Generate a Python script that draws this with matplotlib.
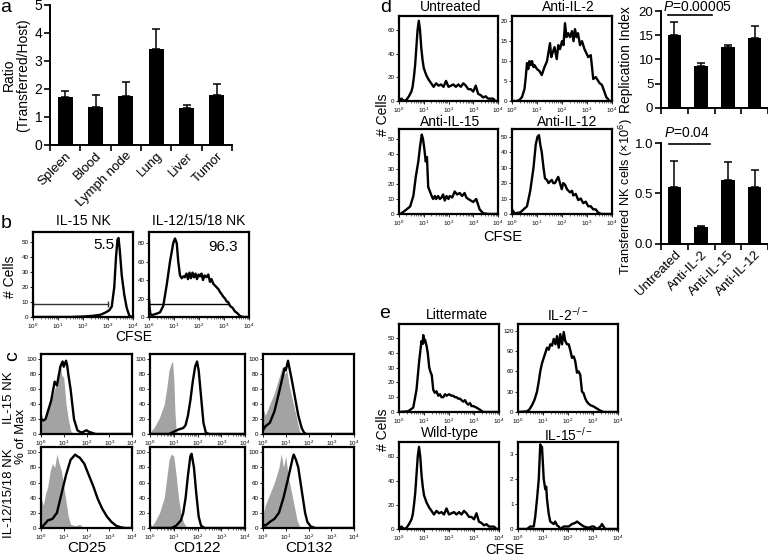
import numpy as np
import matplotlib
matplotlib.use('Agg')
import matplotlib.pyplot as plt

plt.rcParams['font.family'] = ['Liberation Sans', 'DejaVu Sans']
plt.rcParams['mathtext.fontset'] = 'custom'
plt.rcParams['mathtext.rm'] = 'Liberation Sans'
plt.rcParams['mathtext.it'] = 'Liberation Sans:italic'
plt.rcParams['mathtext.bf'] = 'Liberation Sans:bold'

# ---------------- data ----------------
a_categories = ['Spleen', 'Blood', 'Lymph node', 'Lung', 'Liver', 'Tumor']
a_ratio = [1.70, 1.37, 1.76, 3.43, 1.31, 1.78]
a_err = [0.24, 0.41, 0.50, 0.72, 0.11, 0.39]

b_il15_x = [0, 0.5, 1, 1.5, 2, 2.4, 2.7, 2.9, 3.05, 3.15, 3.25, 3.32, 3.38, 3.42, 3.47, 3.55, 3.65, 3.75, 3.85, 3.95, 4]
b_il15_y = [0, 0, 0, 0, 0.3, 0.8, 1.5, 3, 4.5, 7, 20, 40, 52, 53, 45, 28, 15, 6, 1, 0, 0]
b_il1215_x = [0, 0.02, 0.05, 0.1, 0.24, 0.44, 0.57, 0.71, 0.84, 0.97, 1.04, 1.11, 1.17, 1.24, 1.31, 1.37,
              1.43, 1.5, 1.56, 1.62, 1.68, 1.74, 1.8, 1.86, 1.92, 1.98, 2.04, 2.1, 2.16, 2.22, 2.3, 2.37,
              2.44, 2.5, 2.57, 2.64, 2.71, 2.78, 2.84, 2.9, 2.97, 3.04, 3.1, 3.17, 3.24, 3.34, 3.44, 3.54, 3.64, 3.77, 4]
b_il1215_y = [20, 12, 4, 2, 3, 5, 12, 35, 60, 80, 85, 80, 60, 45, 42, 44, 43, 47, 41, 48, 42, 48, 43, 47,
              41, 46, 44, 47, 40, 45, 43, 46, 38, 41, 36, 34, 32, 30, 27, 25, 22, 20, 17, 16, 12, 10, 6, 4, 1, 0, 0]
b_gate_il15 = [0, 3.0, 9]
b_gate_il1215 = [0, 3.2, 14]

# panel c: (x in decades, iso-control gray, stained black)
c_iso_x = {
    ('CD25', 0): [0, 0.1, 0.2, 0.3, 0.4, 0.5, 0.6, 0.7, 0.8, 0.85, 0.9, 1.0, 1.1, 1.2, 1.3, 1.4, 1.6, 4],
    ('CD25', 1): [0, 0.1, 0.2, 0.3, 0.4, 0.5, 0.6, 0.7, 0.8, 0.9, 1.0, 1.1, 1.2, 1.3, 1.5, 1.7, 1.8, 2.0, 4],
    ('CD122', 0): [0, 0.2, 0.4, 0.6, 0.7, 0.8, 0.9, 0.95, 1.0, 1.05, 1.1, 1.2, 4],
    ('CD122', 1): [0, 0.1, 0.2, 0.4, 0.6, 0.7, 0.8, 0.9, 1.0, 1.1, 1.2, 1.3, 1.4, 1.5, 1.6, 4],
    ('CD132', 0): [0, 0.1, 0.3, 0.5, 0.7, 0.85, 0.95, 1.05, 1.15, 1.3, 1.45, 1.6, 1.7, 4],
    ('CD132', 1): [0, 0.03, 0.1, 0.3, 0.5, 0.7, 0.8, 0.9, 1.0, 1.1, 1.2, 1.3, 1.4, 1.5, 1.6, 1.7, 4],
}
c_iso_y = {
    ('CD25', 0): [30, 18, 25, 35, 40, 50, 60, 70, 80, 97, 80, 75, 40, 20, 5, 1, 0, 0],
    ('CD25', 1): [40, 30, 45, 55, 75, 85, 80, 98, 85, 75, 55, 35, 15, 5, 3, 5, 2, 0, 0],
    ('CD122', 0): [2, 10, 22, 40, 60, 85, 95, 97, 75, 30, 5, 0, 0],
    ('CD122', 1): [5, 3, 8, 20, 40, 65, 90, 98, 95, 70, 40, 20, 8, 3, 0, 0],
    ('CD132', 0): [35, 25, 40, 55, 75, 90, 80, 85, 65, 45, 25, 5, 0, 0],
    ('CD132', 1): [90, 20, 30, 45, 60, 80, 98, 80, 95, 70, 55, 40, 25, 10, 3, 0, 0],
}
c_stain_x = {
    ('CD25', 0): [0, 0.1, 0.2, 0.3, 0.45, 0.6, 0.7, 0.85, 0.95, 1.0, 1.1, 1.15, 1.2, 1.3, 1.45, 1.6, 1.7, 1.8, 2.0, 2.1, 2.2, 2.4, 4],
    ('CD25', 1): [0, 0.1, 0.3, 0.5, 0.7, 0.9, 1.1, 1.3, 1.5, 1.58, 1.7, 1.9, 2.1, 2.3, 2.5, 2.7, 2.9, 3.1, 3.3, 3.5, 3.7, 4],
    ('CD122', 0): [0, 0.8, 1.0, 1.2, 1.4, 1.5, 1.6, 1.7, 1.8, 1.9, 1.98, 2.05, 2.15, 2.25, 2.35, 2.5, 4],
    ('CD122', 1): [0, 0.9, 1.1, 1.3, 1.4, 1.5, 1.6, 1.7, 1.75, 1.85, 1.95, 2.05, 2.15, 2.3, 4],
    ('CD132', 0): [0, 0.1, 0.3, 0.5, 0.7, 0.85, 0.95, 1.0, 1.1, 1.15, 1.25, 1.4, 1.55, 1.7, 1.8, 1.9, 4],
    ('CD132', 1): [0, 0.1, 0.3, 0.5, 0.7, 0.9, 1.1, 1.25, 1.3, 1.35, 1.45, 1.55, 1.7, 1.85, 1.95, 2.1, 2.3, 4],
}
c_stain_y = {
    ('CD25', 0): [20, 18, 20, 30, 45, 70, 65, 90, 97, 90, 98, 92, 80, 60, 20, 5, 3, 2, 5, 3, 2, 0, 0],
    ('CD25', 1): [0, 3, 10, 12, 20, 45, 70, 90, 97, 95, 93, 85, 70, 55, 38, 25, 15, 8, 3, 1, 0, 0],
    ('CD122', 0): [0, 0, 3, 6, 8, 12, 25, 45, 70, 90, 97, 85, 50, 15, 2, 0, 0],
    ('CD122', 1): [0, 0, 3, 10, 20, 40, 70, 95, 98, 80, 45, 15, 3, 0, 0],
    ('CD132', 0): [5, 10, 15, 30, 55, 75, 88, 85, 98, 90, 75, 50, 25, 8, 2, 0, 0],
    ('CD132', 1): [5, 3, 8, 12, 20, 40, 65, 85, 92, 97, 90, 80, 50, 20, 8, 2, 0, 0],
}
c_markers = ['CD25', 'CD122', 'CD132']
c_rows = ['IL-15 NK', 'IL-12/15/18 NK']

d_untreated_x = [0, 0.1, 0.2, 0.3, 0.4, 0.5, 0.55, 0.6, 0.65, 0.7, 0.75, 0.8, 0.85, 0.9, 0.95, 1.0, 1.05, 1.1, 1.2,
                 1.3, 1.4, 1.5, 1.6, 1.7, 1.8, 1.9, 2.0, 2.1, 2.2, 2.3, 2.4, 2.5, 2.6, 2.7, 2.8, 2.9, 3.0, 3.1,
                 3.2, 3.3, 3.4, 3.5, 3.6, 3.7, 3.8, 3.9, 4.0]
d_untreated_y = [1, 2, 0, 1, 4, 8, 12, 20, 30, 45, 60, 68, 60, 45, 35, 28, 25, 22, 18, 15, 12, 15, 13, 14, 12,
                 17, 12, 13, 14, 12, 14, 12, 15, 13, 10, 10, 8, 13, 6, 5, 3, 4, 2, 2, 2, 0, 0]
d_antiil2_x = [0, 0.2, 0.3, 0.4, 0.5, 0.55, 0.6, 0.65, 0.7, 0.75, 0.8, 0.86, 0.9, 1.0, 1.1, 1.19, 1.3, 1.4, 1.52,
               1.57, 1.62, 1.7, 1.79, 1.85, 1.92, 2.0, 2.06, 2.12, 2.18, 2.25, 2.32, 2.4, 2.46, 2.52, 2.58,
               2.64, 2.72, 2.8, 2.9, 3.05, 3.15, 3.25, 3.35, 3.5, 3.6, 3.77, 3.9, 4.0]
d_antiil2_y = [0, 0, 0.3, 1, 3, 6, 9.5, 8, 10, 9, 10, 8.5, 9, 8, 7.5, 6.5, 8.5, 10, 14.5, 11, 12, 13.5, 10.5,
               14, 13, 15, 14, 19.5, 16, 17, 16, 17.5, 15, 18, 16, 17, 14, 15, 13, 11, 11.5, 5.5, 6, 4.5, 4,
               1, 0, 0]
d_antiil15_x = [0, 0.1, 0.3, 0.45, 0.58, 0.68, 0.78, 0.85, 0.92, 0.97, 1.02, 1.08, 1.13, 1.18, 1.25, 1.32, 1.38,
                1.45, 1.5, 1.58, 1.65, 1.72, 1.78, 1.85, 1.92, 2.0, 2.05, 2.15, 2.25, 2.35, 2.45, 2.55, 2.65,
                2.72, 2.8, 2.9, 3.0, 3.12, 3.2, 3.26, 3.4, 3.6, 4]
d_antiil15_y = [0, 0.5, 3, 5, 12, 25, 35, 45, 53, 50, 44, 35, 38, 18, 15, 12, 10, 12, 10, 12, 10, 11, 13, 9,
                12, 10, 12, 11, 15, 13, 14, 12, 14, 11, 10, 9, 8, 10, 6, 3, 0.5, 0, 0]
d_antiil12_x = [0, 0.1, 0.33, 0.6, 0.73, 0.86, 0.95, 1.02, 1.08, 1.13, 1.19, 1.26, 1.32, 1.4, 1.46, 1.52, 1.59,
                1.65, 1.72, 1.78, 1.85, 1.92, 1.99, 2.05, 2.12, 2.2, 2.32, 2.4, 2.45, 2.55, 2.65, 2.75, 2.85,
                2.95, 3.05, 3.15, 3.25, 3.35, 3.44, 3.58, 4]
d_antiil12_y = [3, 0.5, 1, 5, 15, 30, 45, 50, 51, 45, 40, 30, 23, 22, 20, 21, 22, 20, 20, 22, 24, 20, 16, 20,
                19, 16, 14, 15, 12, 13, 9, 10, 7, 8, 5, 5, 3, 3, 1, 0, 0]

d_groups = ['Untreated', 'Anti-IL-2', 'Anti-IL-15', 'Anti-IL-12']
d_replication = [15.0, 8.6, 12.5, 14.5]
d_replication_err = [2.8, 0.7, 0.5, 2.4]
d_transferred = [0.56, 0.165, 0.63, 0.56]
d_transferred_err = [0.26, 0.015, 0.18, 0.17]

e_litter_x = [0, 0.37, 0.57, 0.7, 0.81, 0.9, 0.95, 0.97, 1.0, 1.04, 1.1, 1.15, 1.21, 1.26, 1.31, 1.37, 1.43, 1.5,
              1.57, 1.64, 1.7, 1.77, 1.84, 1.9, 2.0, 2.1, 2.17, 2.24, 2.3, 2.37, 2.44, 2.5, 2.57, 2.64, 2.7, 2.77,
              2.84, 2.9, 2.97, 3.1, 3.24, 3.37, 4]
e_litter_y = [0, 0.5, 3, 15, 35, 48, 46, 52, 47, 49, 45, 40, 30, 27, 25, 15, 13, 14, 11, 12, 10, 10, 12, 11,
              12, 11, 11, 10, 10, 9, 9, 8, 7, 8, 6, 5, 6, 4, 4, 3, 1.5, 0, 0]
e_il2_x = [0, 0.36, 0.46, 0.56, 0.66, 0.76, 0.83, 0.89, 0.96, 1.03, 1.1, 1.16, 1.23, 1.29, 1.36, 1.43, 1.5, 1.56,
           1.63, 1.69, 1.76, 1.83, 1.89, 1.96, 2.03, 2.1, 2.16, 2.23, 2.29, 2.36, 2.42, 2.49, 2.56, 2.62, 2.69,
           2.76, 2.83, 2.9, 3.03, 3.16, 3.29, 3.43, 4]
e_il2_y = [0, 1, 4, 10, 18, 30, 45, 60, 72, 80, 88, 95, 92, 100, 98, 108, 100, 112, 95, 115, 100, 118, 105,
           100, 100, 90, 80, 82, 75, 58, 60, 55, 30, 28, 20, 15, 12, 10, 8, 5, 2, 0, 0]
e_wt_x = d_untreated_x
e_wt_y = d_untreated_y
e_il15_x = [0, 0.36, 0.49, 0.63, 0.69, 0.76, 0.83, 0.89, 0.93, 0.96, 1.03, 1.09, 1.13, 1.16, 1.23, 1.29, 1.43,
            1.49, 1.56, 1.63, 1.69, 1.83, 2.03, 2.16, 2.3, 2.36, 2.49, 2.63, 2.83, 2.95, 3.03, 3.16, 3.3, 3.36,
            3.42, 3.49, 3.69, 4]
e_il15_y = [0, 0, 0.1, 0.1, 0.5, 1.2, 2.0, 3.4, 3.3, 3.3, 2.0, 1.6, 1.7, 1.2, 0.6, 0.3, 0.2, 0.3, 0.15, 0.1,
            0.0, 0.1, 0.1, 0.2, 0.25, 0.3, 0.2, 0.1, 0.05, 0.1, 0.1, 0.0, 0.1, 0.2, 0.1, 0.0, 0, 0]

# ---------------- figure ----------------
W, H = 768, 556
fig = plt.figure(figsize=(W / 100, H / 100), dpi=100)


def box(l, t, r, b):
    return fig.add_axes([l / W, 1 - b / H, (r - l) / W, (b - t) / H])


def txt(x, y, s, **kw):
    kw.setdefault('ha', 'center')
    kw.setdefault('va', 'center')
    fig.text(x / W, 1 - y / H, s, **kw)


def hist_ax(l, t, r, b, ymax, yticks):
    ax = box(l, t, r, b)
    ax.set_xscale('log')
    ax.set_xlim(1, 1e4)
    ax.set_ylim(0, ymax)
    ax.set_yticks(yticks)
    ax.set_xticks([1, 10, 100, 1000, 10000])
    ax.tick_params(labelsize=4.5, length=2, width=0.6, pad=1.2, colors='k')
    ax.tick_params(which='minor', length=1.2, width=0.4)
    for s in ax.spines.values():
        s.set_linewidth(1.6)
    return ax


def curve(ax, xs, ys, **kw):
    ax.plot(10 ** np.asarray(xs, float), ys, color='k', lw=1.7, solid_joinstyle='round', **kw)


def bar_ax(ax, vals, errs, labels, ymax, yticks, ytl, show_labels, ytl_size=10):
    x = np.arange(len(vals))
    ax.bar(x, vals, width=0.5, color='k', zorder=3)
    ax.errorbar(x, vals, yerr=[np.zeros(len(vals)), errs], fmt='none', ecolor='k',
                elinewidth=1.1, capsize=3, capthick=1.1, zorder=2)
    ax.set_xlim(-0.5, len(vals) - 0.5)
    ax.set_ylim(0, ymax)
    ax.set_yticks(yticks)
    ax.set_yticklabels(ytl, fontsize=ytl_size)
    for s in ['top', 'right']:
        ax.spines[s].set_visible(False)
    for s in ['left', 'bottom']:
        ax.spines[s].set_linewidth(1.4)
    ax.set_xticks(x)
    ax.tick_params(axis='x', which='major', length=0)
    ax.set_xticks(np.arange(len(vals) + 1) - 0.5, minor=True)
    ax.tick_params(axis='x', which='minor', length=4, width=1.2, direction='out')
    ax.tick_params(axis='y', length=4, width=1.2, pad=1.5)
    if show_labels:
        ax.set_xticklabels(labels, rotation=45, ha='right', rotation_mode='anchor', fontsize=9.5)
    else:
        ax.set_xticklabels([])
    return ax


# ---- panel a ----
axa = box(50, 5, 232, 145)
bar_ax(axa, a_ratio, a_err, a_categories, 5, [0, 1, 2, 3, 4, 5], ['0', '1', '2', '3', '4', '5'], True)
axa.set_ylabel('Ratio\n(Transferred/Host)', fontsize=10, labelpad=3, linespacing=1.0)
txt(6, 7, 'a', fontsize=14)

# ---- panel b ----
axb1 = hist_ax(33, 232, 133, 317, 57, [0, 10, 20, 30, 40, 50])
curve(axb1, b_il15_x, b_il15_y)
axb1.plot([10 ** b_gate_il15[0], 10 ** b_gate_il15[1]], [b_gate_il15[2]] * 2, color='#333333', lw=1.0,
          marker='|', ms=4, mew=1.0)
axb1.text(10 ** 2.85, 48, '5.5', fontsize=11, ha='center', va='center')
axb2 = hist_ax(149, 232, 249, 317, 92, [0, 20, 40, 60, 80])
curve(axb2, b_il1215_x, b_il1215_y)
axb2.plot([10 ** b_gate_il1215[0], 10 ** b_gate_il1215[1]], [b_gate_il1215[2]] * 2, color='k', lw=1.0)
axb2.text(10 ** 2.95, 76, '96.3', fontsize=11, ha='center', va='center')
txt(83, 221, 'IL-15 NK', fontsize=10)
txt(199, 221, 'IL-12/15/18 NK', fontsize=10)
txt(10, 277, '# Cells', fontsize=10, rotation=90)
txt(134, 337, 'CFSE', fontsize=10)
txt(6, 224, 'b', fontsize=14)

# ---- panel c ----
c_cols = [(41, 132), (150, 245), (263, 354)]
c_rowsy = [(354, 434), (447, 528)]
for j, m in enumerate(c_markers):
    for i in range(2):
        l, r = c_cols[j]
        t, b = c_rowsy[i]
        ax = hist_ax(l, t, r, b, 107, [0, 20, 40, 60, 80, 100])
        xi = 10 ** np.asarray(c_iso_x[(m, i)], float)
        ax.fill_between(xi, c_iso_y[(m, i)], color='#a3a3a3', lw=0)
        curve(ax, c_stain_x[(m, i)], c_stain_y[(m, i)])
    txt((c_cols[j][0] + c_cols[j][1]) / 2, 548, m, fontsize=11)
txt(9, 398, c_rows[0], fontsize=9.5, rotation=90)
txt(9, 493, c_rows[1], fontsize=9.5, rotation=90)
txt(21.5, 436, '% of Max', fontsize=9.5, rotation=90)
txt(13, 356, 'c', fontsize=14, rotation=90)

# ---- panel d histograms ----
axd1 = hist_ax(399, 16, 498, 101, 72, [0, 20, 40, 60])
curve(axd1, d_untreated_x, d_untreated_y)
axd2 = hist_ax(512, 16, 612, 101, 21.3, [0, 5, 10, 15, 20])
curve(axd2, d_antiil2_x, d_antiil2_y)
axd3 = hist_ax(399, 129, 498, 214, 56.7, [0, 10, 20, 30, 40, 50])
curve(axd3, d_antiil15_x, d_antiil15_y)
axd4 = hist_ax(512, 129, 612, 214, 55, [0, 10, 20, 30, 40, 50])
curve(axd4, d_antiil12_x, d_antiil12_y)
txt(451, 7, 'Untreated', fontsize=10)
txt(568, 7, 'Anti-IL-2', fontsize=10)
txt(450, 122, 'Anti-IL-15', fontsize=10)
txt(567, 122, 'Anti-IL-12', fontsize=10)
txt(383, 115, '# Cells', fontsize=10, rotation=90)
txt(503, 237, 'CFSE', fontsize=10.5)
txt(386, 7, 'd', fontsize=14)

# ---- panel d bars ----
axr = box(661, 11, 768, 108)
bar_ax(axr, d_replication, d_replication_err, d_groups, 20, [0, 5, 10, 15, 20],
       ['0', '5', '10', '15', '20'], False, ytl_size=9.5)
axr.set_ylabel('Replication Index', fontsize=10, va='center')
axr.yaxis.set_label_coords(-0.325, 0.5)
axr.plot([-0.24, 1.41], [19.2, 19.2], color='k', lw=1.2, clip_on=False)
axr.text(0.85, 20.9, r'$P$=0.00005', fontsize=10, ha='center', va='center', clip_on=False)

axt = box(661, 143, 768, 244)
bar_ax(axt, d_transferred, d_transferred_err, d_groups, 1.0, [0, 0.5, 1.0],
       ['0.0', '0.5', '1.0'], True, ytl_size=9.5)
axt.set_ylabel(r'Transferred NK cells ($\times$10$^6$)', fontsize=9.2, va='center')
axt.yaxis.set_label_coords(-0.325, 0.47)
axt.plot([-0.2, 1.33], [0.99, 0.99], color='k', lw=1.2, clip_on=False)
axt.text(0.47, 1.10, r'$P$=0.04', fontsize=10, ha='center', va='center', clip_on=False)

# ---- panel e ----
axe1 = hist_ax(399, 324, 499, 412, 59.5, [0, 10, 20, 30, 40, 50])
curve(axe1, e_litter_x, e_litter_y)
axe2 = hist_ax(518, 324, 618, 412, 130, [0, 30, 60, 90, 120])
curve(axe2, e_il2_x, e_il2_y)
axe3 = hist_ax(399, 442, 499, 529, 72, [0, 20, 40, 60])
curve(axe3, e_wt_x, e_wt_y)
axe4 = hist_ax(518, 442, 618, 529, 3.5, [0, 1, 2, 3])
curve(axe4, e_il15_x, e_il15_y)
txt(457, 315, 'Littermate', fontsize=10)
txt(568, 315, r'IL-2$^{-/-}$', fontsize=10)
txt(450, 433, 'Wild-type', fontsize=10)
txt(568, 435, r'IL-15$^{-/-}$', fontsize=10)
txt(383, 430, '# Cells', fontsize=10, rotation=90)
txt(505, 550, 'CFSE', fontsize=10.5)
txt(385, 313, 'e', fontsize=14)

fig.savefig('out.png', dpi=100)
